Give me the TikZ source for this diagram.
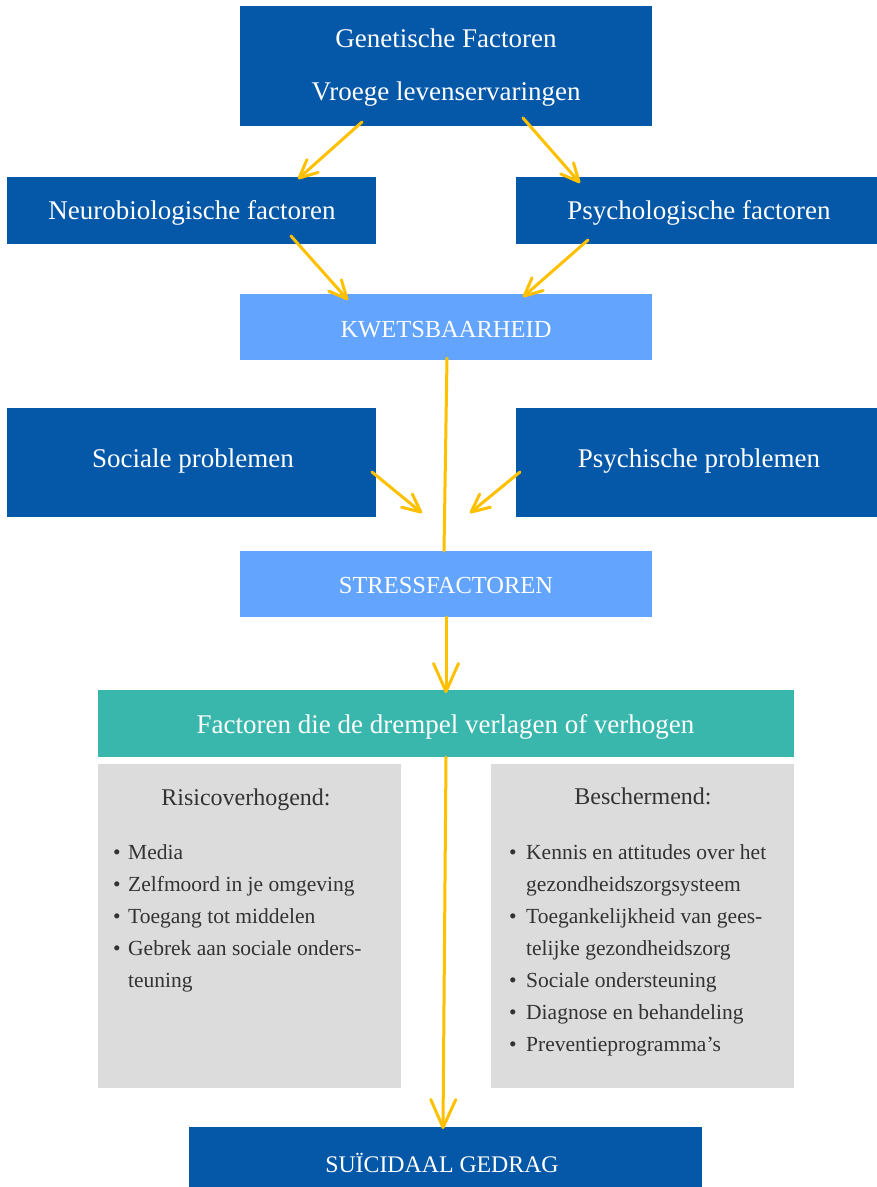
\documentclass[tikz,border=0pt]{standalone}
\usepackage{fontspec}
\setmainfont{Liberation Serif}
\usetikzlibrary{arrows.meta}
\definecolor{dblue}{HTML}{0557A8}
\definecolor{lblue}{HTML}{62A4FE}
\definecolor{tealbox}{HTML}{3AB7AD}
\definecolor{lgrey}{HTML}{DCDCDC}
\definecolor{arrowy}{HTML}{FFC000}
\definecolor{txtgrey}{HTML}{333333}
\tikzset{
  box/.style={rectangle, inner sep=0pt, outer sep=0pt, draw=none},
  boxtxt/.style={anchor=base, inner sep=0pt, text=white, font=\fontsize{27}{31}\selectfont},
  capstxt/.style={anchor=base, inner sep=0pt, text=white, font=\fontsize{24.5}{29}\selectfont},
  listtxt/.style={anchor=base west, inner sep=0pt, text=txtgrey, font=\fontsize{21.5}{25}\selectfont},
  bullettxt/.style={anchor=base, inner sep=0pt, text=txtgrey, font=\fontsize{21.5}{25}\selectfont},
  headtxt/.style={anchor=base, inner sep=0pt, text=txtgrey, font=\fontsize{24}{27}\selectfont},
  yline/.style={draw=arrowy, line width=3pt, line cap=round},
  yarrow/.style={yline, -{Straight Barb[length=18pt,width=17pt,line cap=round,line join=round]}},
  ybig/.style={yline, -{Straight Barb[length=28pt,width=25pt,line cap=round,line join=round]}},
}
\begin{document}
\begin{tikzpicture}[x=1pt,y=-1pt]
\useasboundingbox (0,0) rectangle (877,1187);
% boxes
\node[box, fill=dblue, minimum width=412pt, minimum height=120pt] (top) at (446,66) {};
\node[box, fill=dblue, minimum width=369pt, minimum height=67pt] (neuro) at (191.5,210.5) {};
\node[box, fill=dblue, minimum width=361pt, minimum height=67pt] (psych) at (696.5,210.5) {};
\node[box, fill=lblue, minimum width=412pt, minimum height=66pt] (kwets) at (446,327) {};
\node[box, fill=dblue, minimum width=369pt, minimum height=109pt] (soc) at (191.5,462.5) {};
\node[box, fill=dblue, minimum width=361pt, minimum height=109pt] (psy2) at (696.5,462.5) {};
\node[box, fill=lblue, minimum width=412pt, minimum height=66pt] (stress) at (446,584) {};
\node[box, fill=tealbox, minimum width=696pt, minimum height=67pt] (drempel) at (446,723.5) {};
\node[box, fill=lgrey, minimum width=303pt, minimum height=324pt] (risk) at (249.5,926) {};
\node[box, fill=lgrey, minimum width=303pt, minimum height=324pt] (prot) at (642.5,926) {};
\node[box, fill=dblue, minimum width=513pt, minimum height=60pt] (suic) at (445.5,1157) {};
% box texts
\node[boxtxt] (t1) at (446,47) {Genetische Factoren};
\node[boxtxt] (t2) at (446,100) {Vroege levenservaringen};
\node[boxtxt] (t3) at (192,219) {Neurobiologische factoren};
\node[boxtxt] (t4) at (699,219) {Psychologische factoren};
\node[capstxt] (t5) at (446,337) {KWETSBAARHEID};
\node[boxtxt] (t6) at (193,467) {Sociale problemen};
\node[boxtxt] (t7) at (699,467) {Psychische problemen};
\node[capstxt] (t8) at (446,593) {STRESSFACTOREN};
\node[boxtxt] (t9) at (445.5,733) {Factoren die de drempel verlagen of verhogen};
\node[capstxt, font=\fontsize{23.8}{28}\selectfont] (t10) at (442,1172) {SUÏCIDAAL GEDRAG};
% left list
\node[headtxt] (lh) at (246,805) {Risicoverhogend:};
\node[bullettxt] (lb1) at (117,859) {•};
\node[listtxt] (l1) at (128,859) {Media};
\node[bullettxt] (lb2) at (117,891) {•};
\node[listtxt] (l2) at (128,891) {Zelfmoord in je omgeving};
\node[bullettxt] (lb3) at (117,923) {•};
\node[listtxt] (l3) at (128,923) {Toegang tot middelen};
\node[bullettxt] (lb4) at (117,955) {•};
\node[listtxt] (l4) at (128,955) {Gebrek aan sociale onders-};
\node[listtxt] (l5) at (128,987) {teuning};
% right list
\node[headtxt] (rh) at (643,804) {Beschermend:};
\node[bullettxt] (rb1) at (513,859) {•};
\node[listtxt] (r1) at (526,859) {Kennis en attitudes over het};
\node[listtxt] (r2) at (526,891) {gezondheidszorgsysteem};
\node[bullettxt] (rb3) at (513,923) {•};
\node[listtxt] (r3) at (526,923) {Toegankelijkheid van gees-};
\node[listtxt] (r4) at (526,955) {telijke gezondheidszorg};
\node[bullettxt] (rb5) at (513,987) {•};
\node[listtxt] (r5) at (526,987) {Sociale ondersteuning};
\node[bullettxt] (rb6) at (513,1019) {•};
\node[listtxt] (r6) at (526,1019) {Diagnose en behandeling};
\node[bullettxt] (rb7) at (513,1051) {•};
\node[listtxt] (r7) at (526,1051) {Preventieprogramma’s};
% connector end points
\coordinate (a1s) at (362,122); \coordinate (a1e) at (298,179);
\coordinate (a2s) at (523,118); \coordinate (a2e) at (580,183);
\coordinate (a3s) at (291,236); \coordinate (a3e) at (348,300);
\coordinate (a4s) at (588,240); \coordinate (a4e) at (523,297);
\coordinate (ls) at (447,358);  \coordinate (le) at (444,551);
\coordinate (a5s) at (446,617); \coordinate (a5e) at (446,693);
\coordinate (a6s) at (372,472); \coordinate (a6e) at (422,513);
\coordinate (a7s) at (520,472); \coordinate (a7e) at (470,513);
\coordinate (a8s) at (446,757); \coordinate (a8e) at (443,1129);
% connectors
\draw[yarrow] (a1s) -- (a1e);
\draw[yarrow] (a2s) -- (a2e);
\draw[yarrow] (a3s) -- (a3e);
\draw[yarrow] (a4s) -- (a4e);
\draw[yline] (ls) -- (le);
\draw[ybig] (a5s) -- (a5e);
\draw[yarrow] (a6s) -- (a6e);
\draw[yarrow] (a7s) -- (a7e);
\draw[ybig] (a8s) -- (a8e);
\end{tikzpicture}
\end{document}
